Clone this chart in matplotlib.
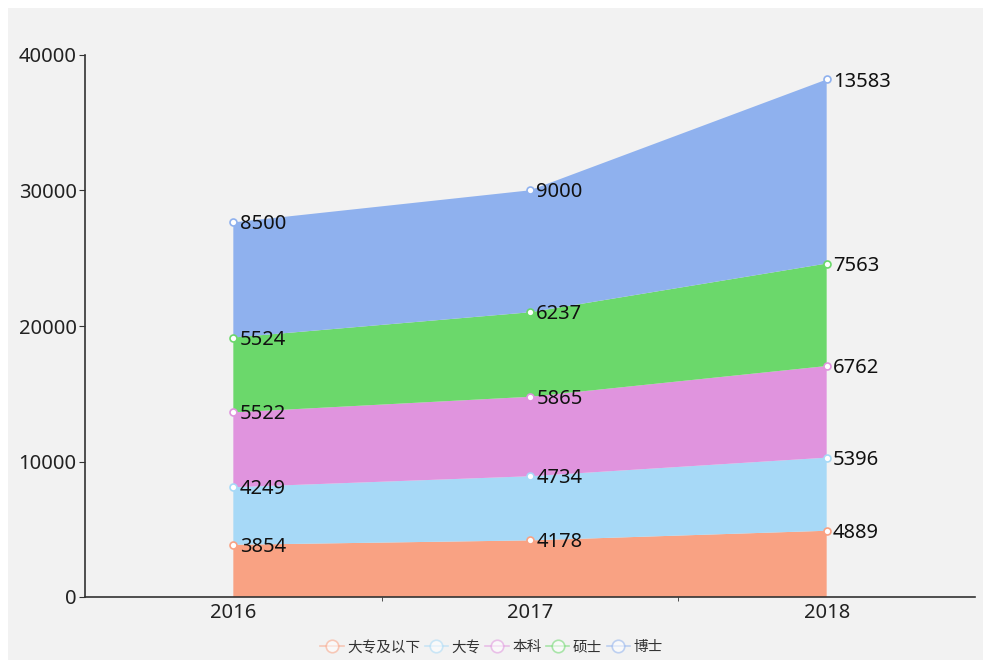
import numpy as np
import matplotlib.pyplot as plt
from matplotlib.lines import Line2D
from matplotlib.patches import Rectangle

plt.rcParams['font.family'] = ['Noto Sans', 'Noto Sans CJK SC', 'DejaVu Sans']

years = ['2016', '2017', '2018']
series_names = ['大专及以下', '大专', '本科', '硕士', '博士']
below_college = [3854, 4178, 4889]
college = [4249, 4734, 5396]
bachelor = [5522, 5865, 6762]
master = [5524, 6237, 7563]
doctor = [8500, 9000, 13583]
colors = ['#f9a283', '#a7d9f7', '#e094de', '#6bd86b', '#8fb1ee']

data = np.array([below_college, college, bachelor, master, doctor])
x = np.arange(len(years))

fig = plt.figure(figsize=(9.83, 6.6), dpi=100)
fig.patch.set_facecolor('white')
fig.patches.append(Rectangle((8 / 983, 0), 1, 1 - 8 / 660, transform=fig.transFigure,
                             facecolor='#f2f2f2', edgecolor='none', zorder=-10))
ax = fig.add_axes([85 / 983, 63 / 660, 890 / 983, 542 / 660])
ax.set_facecolor('none')

ax.stackplot(x, data, colors=colors, linewidth=0)
tops = np.cumsum(data, axis=0)
for i in range(len(series_names)):
    ax.plot(x, tops[i], linestyle='none', marker='o', markersize=5,
            markerfacecolor='white', markeredgecolor=colors[i], markeredgewidth=1.2, zorder=5)
    for j in range(len(years)):
        ax.annotate(str(data[i, j]), (x[j], tops[i][j]), xytext=(4.5, -1.5),
                    textcoords='offset points', ha='left', va='center',
                    fontsize=14.5, color='#111111', zorder=6)

ax.set_xlim(-0.5, 2.5)
ax.set_ylim(0, 40000)
ax.set_xticks(x)
ax.set_xticklabels(years)
ax.set_xticks([0.5, 1.5], minor=True)
ax.tick_params(axis='x', which='major', length=0, labelsize=14.5, pad=4, labelcolor='#222222')
ax.tick_params(axis='x', which='minor', length=3, color='#333333')
ax.set_yticks([0, 10000, 20000, 30000, 40000])
ax.tick_params(axis='y', length=4, labelsize=14.5, pad=2, labelcolor='#222222', color='#333333')

for s in ['top', 'right']:
    ax.spines[s].set_visible(False)
for s in ['left', 'bottom']:
    ax.spines[s].set_color('#333333')
    ax.spines[s].set_linewidth(1.2)

handles = [Line2D([0], [0], color=c, alpha=0.55, lw=1.2, marker='o', markersize=9,
                  markerfacecolor='white', markeredgecolor=c, markeredgewidth=1.2)
           for c in colors]
leg = fig.legend(handles, series_names, loc='center', bbox_to_anchor=(0.5, 12 / 660),
                 ncol=5, frameon=False, fontsize=10.5, handlelength=1.6,
                 columnspacing=0.3, handletextpad=0.25)
for t in leg.get_texts():
    t.set_color('#333333')

fig.savefig('out.png', dpi=100)
